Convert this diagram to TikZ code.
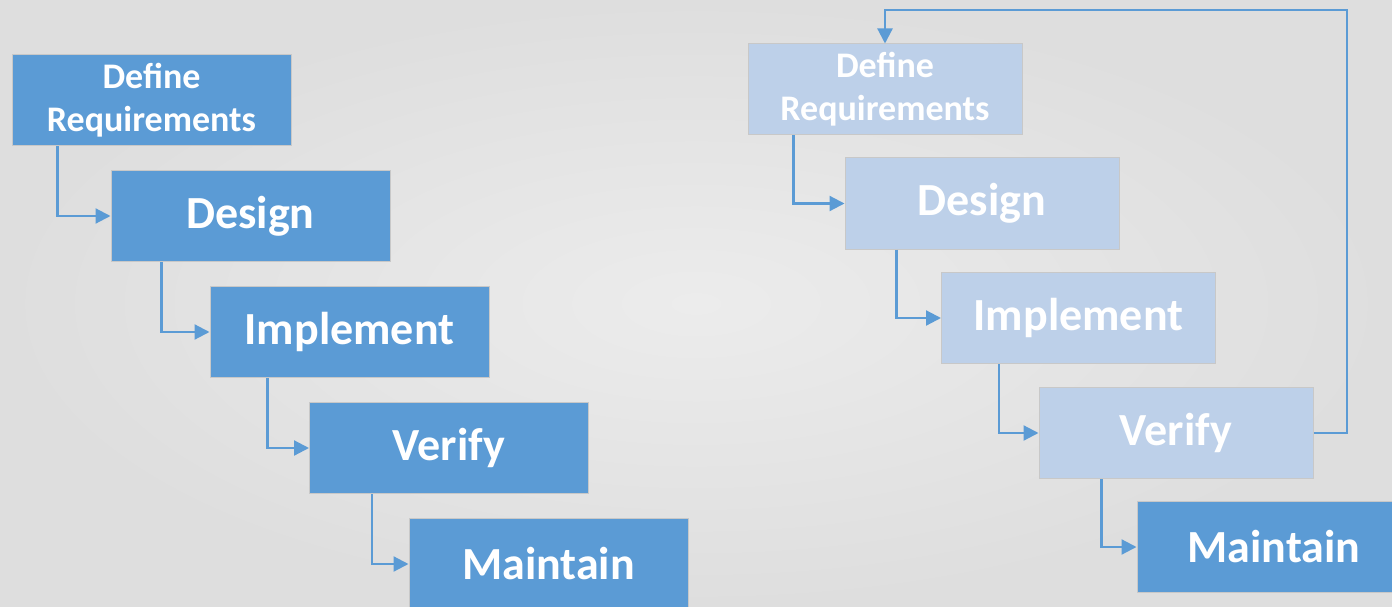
\documentclass[tikz,border=0pt]{standalone}
\usepackage{fontspec}
\setmainfont{Carlito}
\usetikzlibrary{arrows.meta}
\definecolor{stepblue}{RGB}{91,155,213}
\definecolor{stepfade}{RGB}{189,208,233}
\definecolor{stepedge}{RGB}{200,200,200}
\definecolor{paperin}{RGB}{236,236,236}
\definecolor{paperout}{RGB}{222,222,222}
\begin{document}
\begin{tikzpicture}[x=1pt,y=-1pt]
\tikzstyle{phase}=[draw=stepedge, line width=1pt, fill=stepblue, text=white, font={\bfseries\fontsize{46}{52}\selectfont}, minimum width=279pt, minimum height=91pt, inner sep=0pt, align=center]
\tikzstyle{faded}=[phase, fill=stepfade, minimum width=274pt]
\tikzstyle{twoline}=[font={\bfseries\fontsize{36}{43}\selectfont}]
\tikzstyle{link}=[draw=stepblue, line width=2.2pt, -{Triangle[length=15pt,width=15pt]}]
\useasboundingbox (0,0) rectangle (1392,607);
\shade[inner color=paperin, outer color=paperout] (0,0) rectangle (1392,607);
\node[phase, twoline] (req) at (151.5,100.5) {Define\\Requirements};
\node[phase] (des) at (250.5,216) {Design};
\node[phase] (imp) at (349.5,332) {Implement};
\node[phase] (ver) at (449,448) {Verify};
\node[phase] (mnt) at (548.5,564) {Maintain};
\draw[link] ([xshift=46pt]req.south west) |- (des.west);
\draw[link] ([xshift=51pt]des.south west) |- (imp.west);
\draw[link] ([xshift=58pt]imp.south west) |- (ver.west);
\draw[link] ([xshift=63pt]ver.south west) |- (mnt.west);
\node[faded, twoline] (req2) at (885,89.5) {Define\\Requirements};
\node[faded] (des2) at (982,203.5) {Design};
\node[faded] (imp2) at (1078.5,318) {Implement};
\node[faded] (ver2) at (1176,433) {Verify};
\node[phase, minimum width=274pt] (mnt2) at (1274,547) {Maintain};
\draw[link] ([xshift=46pt]req2.south west) |- (des2.west);
\draw[link] ([xshift=52pt]des2.south west) |- (imp2.west);
\draw[link] ([xshift=58pt]imp2.south west) |- (ver2.west);
\draw[link] ([xshift=63pt]ver2.south west) |- (mnt2.west);
\coordinate (loop) at (1347,10);
\draw[link] (ver2.east) -| (loop) -| (req2.north);
\end{tikzpicture}
\end{document}
